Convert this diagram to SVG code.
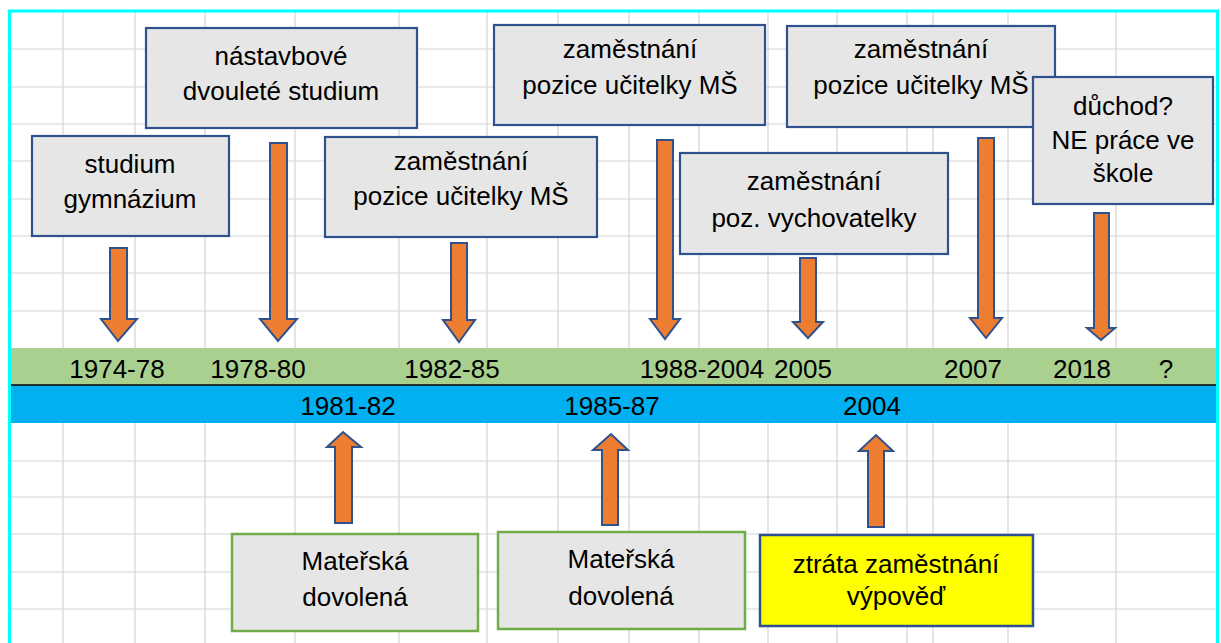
<svg xmlns="http://www.w3.org/2000/svg" width="1221" height="643" viewBox="0 0 1221 643">
<style>
.grid{stroke:#d4d4d4;stroke-width:1.2;fill:none}
.box{fill:#e7e6e6;stroke:#2f528f;stroke-width:2.2}
.gbox{fill:#e7e6e6;stroke:#70ad47;stroke-width:2.5}
.ybox{fill:#ffff00;stroke:#2f528f;stroke-width:2.5}
.arr{fill:#ed7d31;stroke:#2f528f;stroke-width:2;stroke-linejoin:miter}
text{font-family:"Liberation Sans",Arial,sans-serif;font-size:26px;fill:#000;text-anchor:middle}
</style>
<rect x="0" y="0" width="1221" height="643" fill="#ffffff"/>
<g id="grid">
<path class="grid" d="M63 12V643M135 12V643M205 12V643M295 12V643M399 12V643M487 12V643M558 12V643M629 12V643M699 12V643M768 12V643M837 12V643M907 12V643M933 12V643M1008 12V643M1116 12V643"/>
<path class="grid" d="M10 49H1217M10 87H1217M10 124H1217M10 161H1217M10 199H1217M10 236H1217M10 273H1217M10 311H1217M10 461H1217M10 497H1217M10 534H1217M10 572H1217M10 609H1217"/>
</g>
<g id="timeline">
<rect x="10" y="348" width="1207" height="37" fill="#a9d08e"/>
<rect x="10" y="385" width="1207" height="38" fill="#00b0f0"/>
<line x1="10" y1="385" x2="1217" y2="385" stroke="#000" stroke-width="1.5"/>
<text x="117" y="378">1974-78</text>
<text x="258" y="378">1978-80</text>
<text x="452" y="378">1982-85</text>
<text x="702" y="378">1988-2004</text>
<text x="803" y="378">2005</text>
<text x="973" y="378">2007</text>
<text x="1082" y="378">2018</text>
<text x="1166" y="378">?</text>
<text x="348" y="415">1981-82</text>
<text x="612" y="415">1985-87</text>
<text x="872" y="415">2004</text>
</g>
<g id="border">
<path d="M9.5 643V11H1217.5V643" fill="none" stroke="#00ffff" stroke-width="3"/>
</g>
<g id="connectors">
<path class="arr" d="M110 248H127V319H137L118 341L101 319H110Z"/>
<path class="arr" d="M270 143H287V319H297L278 341L260 319H270Z"/>
<path class="arr" d="M451 243H467V320H475L459 342L443 320H451Z"/>
<path class="arr" d="M657 140H673V319H680L665 339L650 319H657Z"/>
<path class="arr" d="M800 258H816V322H823L808 338L793 322H800Z"/>
<path class="arr" d="M978 138H994V318H1002L986 338L970 318H978Z"/>
<path class="arr" d="M1094 213H1109V328H1115L1101 340L1087 328H1094Z"/>
<path class="arr" d="M335 523V447H327L343 432L361 447H352V523Z"/>
<path class="arr" d="M602 525V450H593L611 434L628 450H618V525Z"/>
<path class="arr" d="M868 527V451H859L876 435L893 451H884V527Z"/>
</g>
<g id="n-studium">
<rect class="box" x="32" y="136" width="197" height="100"/>
<text x="130" y="173">studium</text>
<text x="130" y="208">gymnázium</text>
</g>
<g id="n-nastavbove">
<rect class="box" x="146" y="28" width="271" height="100"/>
<text x="281" y="65">nástavbové</text>
<text x="281" y="100">dvouleté studium</text>
</g>
<g id="n-ucitelka1">
<rect class="box" x="325" y="137" width="272" height="100"/>
<text x="461" y="170">zaměstnání</text>
<text x="461" y="205">pozice učitelky MŠ</text>
</g>
<g id="n-ucitelka2">
<rect class="box" x="494" y="25" width="271" height="100"/>
<text x="630" y="58">zaměstnání</text>
<text x="630" y="94">pozice učitelky MŠ</text>
</g>
<g id="n-vychovatelka">
<rect class="box" x="680" y="153" width="268" height="101"/>
<text x="814" y="190">zaměstnání</text>
<text x="814" y="227">poz. vychovatelky</text>
</g>
<g id="n-ucitelka3">
<rect class="box" x="787" y="26" width="268" height="101"/>
<text x="921" y="58">zaměstnání</text>
<text x="921" y="94">pozice učitelky MŠ</text>
</g>
<g id="n-duchod">
<rect class="box" x="1033" y="77" width="180" height="127"/>
<text x="1123" y="115">důchod?</text>
<text x="1123" y="149">NE práce ve</text>
<text x="1123" y="182">škole</text>
</g>
<g id="n-materska1">
<rect class="gbox" x="232" y="534" width="246" height="97"/>
<text x="355" y="570">Mateřská</text>
<text x="355" y="606">dovolená</text>
</g>
<g id="n-materska2">
<rect class="gbox" x="498" y="532" width="247" height="97"/>
<text x="621" y="568">Mateřská</text>
<text x="621" y="605">dovolená</text>
</g>
<g id="n-ztrata">
<rect class="ybox" x="760" y="535" width="273" height="91"/>
<text x="896" y="573">ztráta zaměstnání</text>
<text x="896" y="605">výpověď</text>
</g>
</svg>
